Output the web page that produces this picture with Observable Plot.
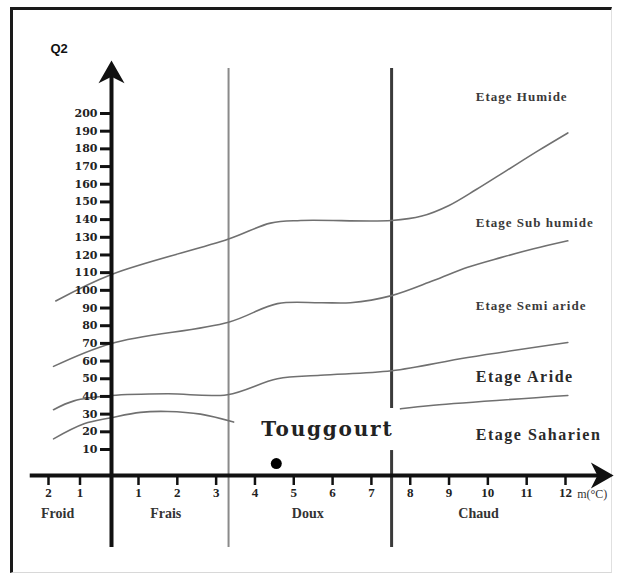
<!DOCTYPE html>
<html><head><meta charset="utf-8">
<script src="https://cdn.jsdelivr.net/npm/d3@7"></script>
<script src="https://cdn.jsdelivr.net/npm/@observablehq/plot@0.6"></script>
<style>
body{margin:0;background:#fff;}
#wrap{position:relative;width:625px;height:577px;overflow:hidden;}
#border{position:absolute;left:10px;top:7px;width:602px;height:566px;border-left:3px solid #1a1a1a;border-top:3px solid #1a1a1a;border-right:1px solid #e0e0e0;border-bottom:1px solid #d8d8d8;box-sizing:border-box;}
#wrap svg{position:absolute;left:0;top:0;}
</style></head><body><div id="wrap"><div id="border"></div></div>
<script>
// ---- Data (Emberger climagram, Touggourt) ----
const mTicks = [-2, -1, 1, 2, 3, 4, 5, 6, 7, 8, 9, 10, 11, 12];
const q2Ticks = [10, 20, 30, 40, 50, 60, 70, 80, 90, 100, 110, 120, 130, 140, 150, 160, 170, 180, 190, 200];

// boundary Humide / Sub-humide
const humideM  = [-1.77, 0, 3.32, 4.40, 5.18, 7.52, 8.30, 9.00, 9.70, 10.50, 11.30, 12.06];
const humideQ2 = [94, 109, 129, 138, 139.5, 139.5, 142, 148, 157, 168, 179, 189];
// boundary Sub-humide / Semi-aride
const subHumM  = [-1.84, 0, 3.32, 4.58, 5.69, 6.46, 7.52, 8.60, 9.48, 10.33, 11.18, 12.06];
const subHumQ2 = [57, 70, 82, 92.5, 93, 93, 97, 105.5, 113, 118.5, 123.5, 128];
// boundary Semi-aride / Aride
const semiAridM  = [-1.84, -1.19, 0, 1.75, 3.29, 4.58, 5.69, 7.52, 9.48, 12.06];
const semiAridQ2 = [32.5, 37.5, 40.5, 41.5, 41, 50, 52, 54.5, 62, 70.5];
// boundary Aride / Saharien (two pieces)
const aridLeftM  = [-1.84, -0.87, 0, 1.05, 1.75, 2.60, 3.45];
const aridLeftQ2 = [16, 24.5, 28, 31, 31.5, 30, 25.5];
const aridRightM  = [7.75, 8.60, 12.06];
const aridRightQ2 = [33, 35, 40.5];

// zone labels
const zoneNames = ["Etage Humide", "Etage Sub humide", "Etage Semi aride", "Etage Aride", "Etage Saharien"];
const zoneQ2 = [209.7, 138.4, 91.4, 51.3, 18.5];
const zoneM = 9.69;

// thermal groups
const groupNames = ["Froid", "Frais", "Doux", "Chaud"];
const groupM = [-1.71, 1.70, 5.36, 9.76];
const groupQ2 = -14.6;

// limits between thermal groups
const limitFraisDoux = 3.32;
const limitDouxChaud = 7.52;

// station
const stationName = "Touggourt";
const stationM = [4.55];
const stationQ2 = [4.6];

// ---- build tables ----
const series = [
  ["humide", humideM, humideQ2],
  ["subhum", subHumM, subHumQ2],
  ["semiarid", semiAridM, semiAridQ2],
  ["aridL", aridLeftM, aridLeftQ2],
  ["aridR", aridRightM, aridRightQ2]
];
const lineData = series.flatMap(([z, ms, qs]) => ms.map((m, i) => ({z, m, q: qs[i]})));
const zones = zoneNames.map((t, i) => ({t, m: zoneM, q: zoneQ2[i], big: i >= 3}));
const groups = groupNames.map((t, i) => ({t, m: groupM[i], q: groupQ2}));

// notched arrow head symbol (tip at origin, pointing up)
const arrowHead = {
  draw(ctx, size) {
    const r = Math.sqrt(size / Math.PI);
    ctx.moveTo(0, 0);
    ctx.lineTo(-r, 1.75 * r);
    ctx.lineTo(0, 1.25 * r);
    ctx.lineTo(r, 1.75 * r);
    ctx.closePath();
  }
};

const serif = "'Liberation Serif', 'Times New Roman', serif";
const dejavu = "'DejaVu Serif', serif";

const chart = Plot.plot({
  width: 625,
  height: 577,
  marginLeft: 111,
  marginBottom: 102,
  marginTop: 0,
  marginRight: 0,
  x: {type: "linear", domain: [-2, 0, 1, 12], range: [48, 111, 138, 565]},
  y: {type: "linear", domain: [0, 10, 200], range: [475, 449, 113]},
  style: {background: "transparent", overflow: "visible"},
  marks: [
    // thermal group limits
    Plot.ruleX([limitFraisDoux], {y1: -27.7, y2: 225.5, stroke: "#8a8a8a", strokeWidth: 2}),
    Plot.ruleX([limitDouxChaud], {y1: 33.2, y2: 225.5, stroke: "#3a3a3a", strokeWidth: 3}),
    Plot.ruleX([limitDouxChaud], {y1: -27.7, y2: 9.6, stroke: "#3a3a3a", strokeWidth: 3}),
    // climatic boundaries
    Plot.line(lineData, {x: "m", y: "q", z: "z", curve: "catmull-rom", stroke: "#707070", strokeWidth: 1.6}),
    // axes lines
    Plot.ruleX([0], {y1: -27.7, y2: 222, stroke: "#111", strokeWidth: 4}),
    Plot.ruleY([0], {x1: -2.58, x2: 13.0, stroke: "#111", strokeWidth: 4}),
    Plot.dot([{m: 0, q: 230}], {x: "m", y: "q", symbol: arrowHead, r: 13, fill: "#111", stroke: "none"}),
    Plot.dot([{m: 13.24, q: 0}], {x: "m", y: "q", symbol: arrowHead, r: 13, fill: "#111", stroke: "none", rotate: 90}),
    // axis ticks and labels
    Plot.axisY({ticks: q2Ticks, tickSize: 11, tickPadding: 3, strokeWidth: 3, stroke: "#111",
      fontFamily: dejavu, fontSize: 11, fontWeight: "bold", fill: "#222", label: null}),
    Plot.axisX({ticks: mTicks, tickSize: 10, tickPadding: 2, strokeWidth: 2.5, stroke: "#111",
      tickFormat: d => Math.abs(d), fontFamily: serif, fontSize: 13, fontWeight: "bold", fill: "#222", label: null}),
    // m(°C)
    Plot.text([{m: 12.3, q: -7.3}], {x: "m", y: "q", text: () => "m(°C)", textAnchor: "start",
      fontFamily: serif, fontSize: 12, fill: "#333"}),
    // Q2 label
    Plot.text([{m: -1.94, q: 236.8}], {x: "m", y: "q", text: () => "Q2", textAnchor: "start",
      fontFamily: "'Liberation Sans', Arial, sans-serif", fontSize: 13, fontWeight: "bold", fill: "#111"}),
    // group labels
    Plot.text(groups, {x: "m", y: "q", text: "t", fontFamily: serif, fontSize: 14, fontWeight: "bold", fill: "#333"}),
    // zone labels
    Plot.text(zones.filter(d => !d.big), {x: "m", y: "q", text: "t", textAnchor: "start",
      fontFamily: serif, fontSize: 13, fontWeight: "bold", fill: "#3a3a3a"}),
    Plot.text(zones.filter(d => d.big), {x: "m", y: "q", text: "t", textAnchor: "start",
      fontFamily: serif, fontSize: 16, fontWeight: "bold", fill: "#2a2a2a"}),
    // station
    Plot.text([{m: 4.16, q: 21.3}], {x: "m", y: "q", text: () => stationName, textAnchor: "start",
      fontFamily: dejavu, fontSize: 20, fontWeight: "bold", fill: "#222"}),
    Plot.dot(stationM.map((m, i) => ({m, q: stationQ2[i]})), {x: "m", y: "q", r: 5.5, fill: "#000", stroke: "none"})
  ]
});
document.getElementById("wrap").appendChild(chart);
// letter spacing for labels (style only)
d3.select(chart).selectAll("text").each(function() {
  const t = this.textContent;
  if (t.startsWith("Etage")) this.setAttribute("letter-spacing", t === "Etage Aride" || t === "Etage Saharien" ? "1.5" : "1");
  if (t === stationName) this.setAttribute("letter-spacing", "1.8");
});
</script>
</body></html>
